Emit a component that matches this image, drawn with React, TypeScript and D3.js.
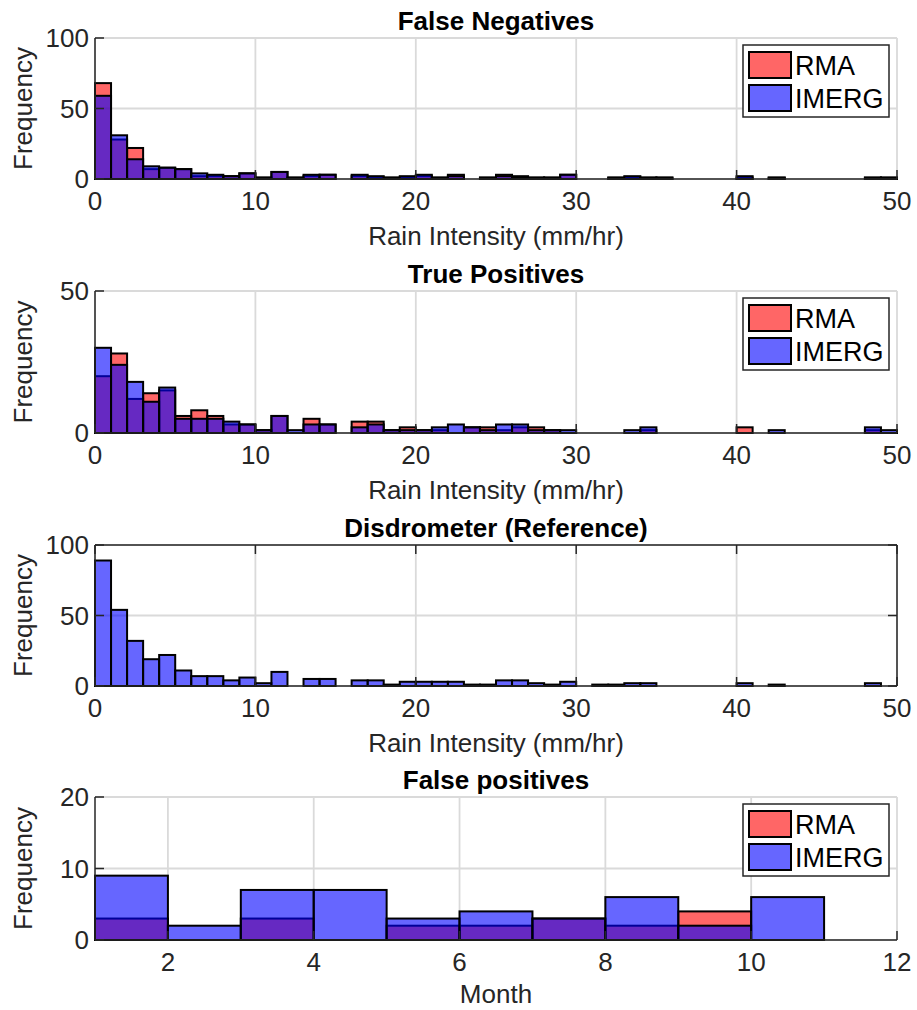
import React from 'react'
import * as d3 from 'd3'

// rain intensity bins, 1 mm/hr wide
const rainEdges = d3.range(0, 51)
const monthEdges = d3.range(1, 12)

const fnRma = [68, 28, 22, 7, 8, 7, 2, 2, 2, 4, 1, 5, 1, 2, 3, 0, 2, 1, 1, 1, 2, 1, 3, 0, 1, 3, 2, 1, 1, 3, 0, 0, 1, 1, 1, 1, 0, 0, 0, 0, 1, 0, 1, 0, 0, 0, 0, 0, 1, 1]
const fnImerg = [59, 31, 14, 9, 8, 7, 4, 3, 2, 4, 1, 5, 1, 3, 3, 0, 3, 2, 1, 2, 3, 1, 2, 0, 1, 2, 1, 1, 1, 3, 0, 0, 1, 2, 1, 1, 0, 0, 0, 0, 2, 0, 1, 0, 0, 0, 0, 0, 1, 1]
const tpRma = [20, 28, 12, 14, 15, 6, 8, 6, 3, 3, 1, 6, 0, 5, 3, 0, 4, 4, 1, 2, 1, 1, 0, 2, 2, 1, 2, 2, 1, 0, 0, 0, 0, 0, 1, 0, 0, 0, 0, 0, 2, 0, 0, 0, 0, 0, 0, 0, 1, 0]
const tpImerg = [30, 24, 18, 11, 16, 5, 5, 5, 4, 3, 1, 6, 1, 3, 3, 0, 2, 3, 1, 1, 1, 2, 3, 2, 1, 3, 3, 1, 1, 1, 0, 0, 0, 1, 2, 0, 0, 0, 0, 0, 0, 0, 1, 0, 0, 0, 0, 0, 2, 1]
const disd = [89, 54, 32, 19, 22, 11, 7, 7, 4, 6, 2, 10, 0, 5, 5, 0, 4, 4, 1, 3, 3, 3, 3, 1, 1, 4, 4, 2, 1, 3, 0, 1, 1, 2, 2, 0, 0, 0, 0, 0, 2, 0, 1, 0, 0, 0, 0, 0, 2, 0]
const fpRma = [3, 0, 3, 0, 2, 2, 3, 2, 4, 0]
const fpImerg = [9, 2, 7, 7, 3, 4, 3, 6, 2, 6]

const rainTicks = [0, 10, 20, 30, 40, 50]
const monthTicks = [2, 4, 6, 8, 10, 12]

const RED = 'rgb(255,0,0)'
const BLUE = 'rgb(0,0,255)'
const AXIS = '#262626'
const GRID = '#dadada'
const FONT = '"Liberation Sans", Arial, Helvetica, sans-serif'

const svgWidth = 917
const svgHeight = 1010
const left = 95
const right = 897
const fs = 26

const panels = [
  {
    title: 'False Negatives', top: 38, bottom: 179, xDomain: [0, 50], xTicks: rainTicks,
    yDomain: [0, 100], yTicks: [0, 50, 100], edges: rainEdges,
    series: [{ values: fnRma, color: RED }, { values: fnImerg, color: BLUE }],
    xlabel: 'Rain Intensity (mm/hr)', xlabelGap: 66, legend: true, box: false,
  },
  {
    title: 'True Positives', top: 291, bottom: 433, xDomain: [0, 50], xTicks: rainTicks,
    yDomain: [0, 50], yTicks: [0, 50], edges: rainEdges,
    series: [{ values: tpRma, color: RED }, { values: tpImerg, color: BLUE }],
    xlabel: 'Rain Intensity (mm/hr)', xlabelGap: 66, legend: true, box: false,
  },
  {
    title: 'Disdrometer (Reference)', top: 545, bottom: 686, xDomain: [0, 50], xTicks: rainTicks,
    yDomain: [0, 100], yTicks: [0, 50, 100], edges: rainEdges,
    series: [{ values: disd, color: BLUE }],
    xlabel: 'Rain Intensity (mm/hr)', xlabelGap: 66, legend: false, box: true,
  },
  {
    title: 'False positives', top: 797, bottom: 940, xDomain: [1, 12], xTicks: monthTicks,
    yDomain: [0, 20], yTicks: [0, 10, 20], edges: monthEdges,
    series: [{ values: fpRma, color: RED }, { values: fpImerg, color: BLUE }],
    xlabel: 'Month', xlabelGap: 63, legend: true, box: false,
  },
]

const Legend = ({ x, y }) => (
  <g transform={`translate(${x},${y})`}>
    <rect x={0} y={0} width={146} height={72} fill='white' stroke={AXIS} strokeWidth={1.5} />
    {[{ label: 'RMA', color: RED }, { label: 'IMERG', color: BLUE }].map((d, i) => (
      <g key={d.label} transform={`translate(0,${7 + i * 33})`}>
        <rect x={6} y={0} width={42} height={26} fill={d.color} fillOpacity={0.6} stroke='black' strokeWidth={2} />
        <text x={52} y={23} fontSize={27} fontFamily={FONT} fill='black'>{d.label}</text>
      </g>
    ))}
  </g>
)

const Panel = ({ p }) => {
  const x = d3.scaleLinear().domain(p.xDomain).range([left, right])
  const y = d3.scaleLinear().domain(p.yDomain).range([p.bottom, p.top])
  const tick = 9
  return (
    <g>
      {/* grid */}
      {p.xTicks.map(t => (
        <line key={'gx' + t} x1={x(t)} x2={x(t)} y1={p.top} y2={p.bottom} stroke={GRID} strokeWidth={1.8} />
      ))}
      {p.yTicks.map(t => (
        <line key={'gy' + t} x1={left} x2={right} y1={y(t)} y2={y(t)} stroke={GRID} strokeWidth={1.8} />
      ))}

      {/* bars */}
      {p.series.map((s, si) => (
        <g key={si}>
          {s.values.map((v, i) => v > 0 && (
            <rect
              key={i}
              x={x(p.edges[i])}
              y={y(v)}
              width={x(p.edges[i + 1]) - x(p.edges[i])}
              height={y(0) - y(v)}
              fill={s.color}
              fillOpacity={0.6}
              stroke='black'
              strokeWidth={2}
            />
          ))}
        </g>
      ))}

      {/* axes */}
      <line x1={left} x2={right} y1={p.bottom} y2={p.bottom} stroke={AXIS} strokeWidth={1.5} />
      <line x1={left} x2={left} y1={p.top} y2={p.bottom} stroke={AXIS} strokeWidth={1.5} />
      {p.box && <line x1={left} x2={right} y1={p.top} y2={p.top} stroke={AXIS} strokeWidth={1.5} />}
      {p.box && <line x1={right} x2={right} y1={p.top} y2={p.bottom} stroke={AXIS} strokeWidth={1.5} />}
      {p.xTicks.map(t => (
        <g key={'tx' + t}>
          <line x1={x(t)} x2={x(t)} y1={p.bottom} y2={p.bottom - tick} stroke={AXIS} strokeWidth={1.5} />
          {p.box && <line x1={x(t)} x2={x(t)} y1={p.top} y2={p.top + tick} stroke={AXIS} strokeWidth={1.5} />}
          <text x={x(t)} y={p.bottom + 31} textAnchor='middle' fontSize={fs} fontFamily={FONT} fill={AXIS}>{t}</text>
        </g>
      ))}
      {p.yTicks.map(t => (
        <g key={'ty' + t}>
          <line x1={left} x2={left + tick} y1={y(t)} y2={y(t)} stroke={AXIS} strokeWidth={1.5} />
          {p.box && <line x1={right} x2={right - tick} y1={y(t)} y2={y(t)} stroke={AXIS} strokeWidth={1.5} />}
          <text x={left - 6} y={y(t)} dy='0.35em' textAnchor='end' fontSize={fs} fontFamily={FONT} fill={AXIS}>{t}</text>
        </g>
      ))}

      {/* labels */}
      <text x={(left + right) / 2} y={p.top - 8} textAnchor='middle' fontSize={fs} fontWeight='bold' fontFamily={FONT} fill='black'>{p.title}</text>
      <text x={(left + right) / 2} y={p.bottom + p.xlabelGap} textAnchor='middle' fontSize={fs} fontFamily={FONT} fill={AXIS}>{p.xlabel}</text>
      <text transform={`translate(32,${(p.top + p.bottom) / 2}) rotate(-90)`} textAnchor='middle' fontSize={fs} fontFamily={FONT} fill={AXIS}>Frequency</text>

      {p.legend && <Legend x={right - 154} y={p.top + 7} />}
    </g>
  )
}

const App = () => (
  <svg width={svgWidth} height={svgHeight} style={{ position: 'absolute', left: 0, top: 0, background: 'white' }}>
    {panels.map(p => <Panel key={p.title} p={p} />)}
  </svg>
)

export default App
